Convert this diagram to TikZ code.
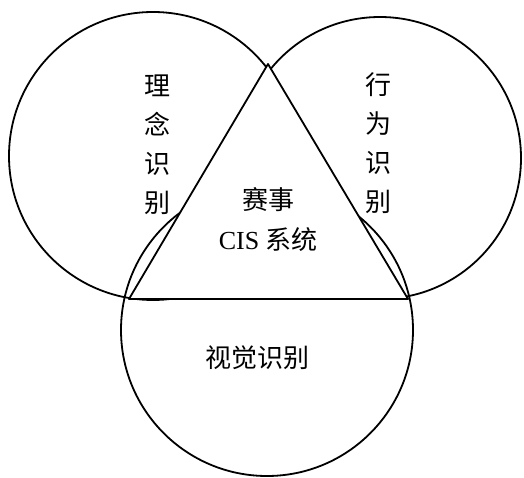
\documentclass[tikz,border=0pt]{standalone}
\usepackage{fontspec}
\setmainfont{Liberation Serif}
\newfontfamily\cjk{Noto Sans CJK SC}
\begin{document}
\begin{tikzpicture}[x=1pt,y=-1pt,
  ring/.style={draw, circle, inner sep=0pt, line width=1.8pt},
  tri/.style={draw, fill=white, line width=1.8pt, line join=round},
  lbl/.style={font=\cjk\fontsize{26}{39}\selectfont, align=center, inner sep=0pt}]
\useasboundingbox (0,0) rectangle (524,478);
\node[ring, minimum size=288pt] (c1) at (153,156) {};
\node[ring, minimum size=282pt] (c2) at (380,158) {};
\node[ring, minimum size=292pt] (c3) at (267,330) {};
\coordinate (A) at (268,64);
\coordinate (B) at (129,299);
\coordinate (C) at (408,299);
\path[tri] (A) -- (B) -- (C) -- cycle;
\node[lbl] (t1) at (157,145) {理\\念\\识\\别};
\node[lbl] (t2) at (378,143) {行\\为\\识\\别};
\node[lbl, font=\cjk\fontsize{26}{40}\selectfont] (t0) at (268,219) {赛事\\{\rmfamily CIS} 系统};
\node[lbl] (t3) at (257,358) {视觉识别};
\end{tikzpicture}
\end{document}
